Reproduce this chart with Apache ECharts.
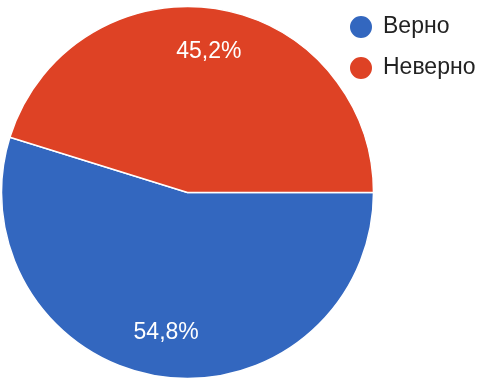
<!DOCTYPE html>
<html><head><meta charset="utf-8">
<script src="https://cdn.jsdelivr.net/npm/echarts@6/dist/echarts.min.js"></script>
<style>html,body{margin:0;padding:0;background:#fff}#c{width:487px;height:383px}</style>
</head><body><div id="c"></div>
<script>
const categories = ["Верно", "Неверно"];
const values = [54.8, 45.2];
const colors = ["#3367bf", "#de4225"];

const data = categories.map((n, i) => ({ name: n, value: values[i], itemStyle: { color: colors[i] } }));
const font = '"Liberation Sans", Arial, sans-serif';
const chart = echarts.init(document.getElementById('c'));
chart.setOption({
  animation: false,
  legend: {
    data: categories,
    orient: 'vertical',
    left: 343, top: 9,
    icon: 'circle',
    itemWidth: 24, itemHeight: 24, itemGap: 15,
    textStyle: { fontFamily: font, fontSize: 23, color: '#222', padding: [0, 0, 0, 5] }
  },
  series: [
    {
      type: 'pie',
      center: [187.5, 192.5],
      radius: [0, 186],
      startAngle: 0,
      clockwise: true,
      silent: true,
      label: { show: false },
      labelLine: { show: false },
      itemStyle: { borderColor: '#fff', borderWidth: 1.5 },
      data: data
    },
    {
      type: 'pie',
      center: [187.5, 192.5],
      radius: [100, 178],
      startAngle: 0,
      clockwise: true,
      silent: true,
      legendHoverLink: false,
      itemStyle: { color: 'rgba(0,0,0,0)', borderWidth: 0 },
      label: {
        show: true, position: 'inside',
        formatter: p => String(p.value).replace('.', ',') + '%',
        color: '#fff', fontFamily: font, fontSize: 23
      },
      labelLine: { show: false },
      data: categories.map((n, i) => ({ name: n, value: values[i] }))
    }
  ]
});
</script></body></html>
